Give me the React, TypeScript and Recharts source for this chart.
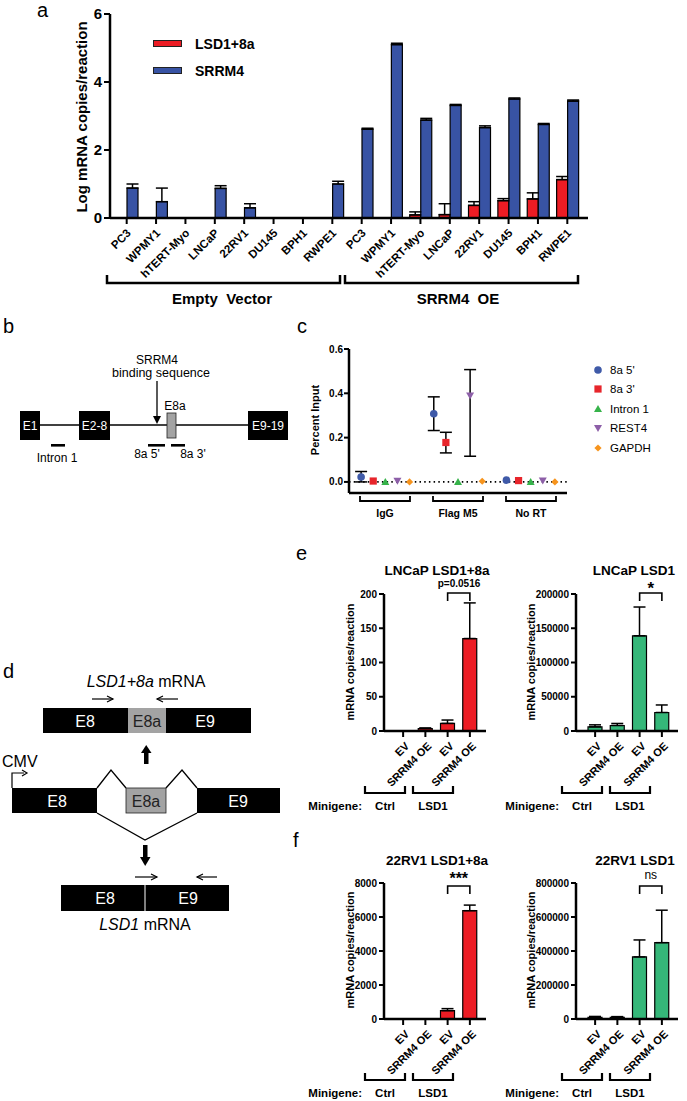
import React from "react";
import {
  BarChart, Bar, XAxis, YAxis, ErrorBar, Legend, ScatterChart, Scatter, ReferenceLine,
} from "recharts";

const FONT = "'Liberation Sans', Arial, Helvetica, sans-serif";

// ---- panel a: log copies per cell line ----
const cellLines = ["PC3", "WPMY1", "hTERT-Myo", "LNCaP", "22RV1", "DU145", "BPH1", "RWPE1"];
const evLsd = [0, 0, 0, 0, 0, 0, 0, 0];
const evSrrm4 = [0.88, 0.48, 0, 0.87, 0.3, 0, 0, 1.0];
const evSrrm4Err = [0.12, 0.4, 0, 0.08, 0.12, 0, 0, 0.08];
const oeLsd = [0, 0, 0.09, 0.1, 0.37, 0.51, 0.56, 1.13];
const oeLsdErr = [0, 0, 0.09, 0.32, 0.11, 0.06, 0.18, 0.09];
const oeSrrm4 = [2.61, 5.1, 2.88, 3.31, 2.66, 3.5, 2.75, 3.44];
const oeSrrm4Err = [0.03, 0.04, 0.05, 0.03, 0.05, 0.03, 0.03, 0.03];

// ---- panel c: ChIP percent input ----
const chipGroups = ["IgG", "Flag M5", "No RT"];
const chip8a5 = [0.022, 0.308, 0.008];
const chip8a5Err = [[0.022, 0.025], [0.076, 0.076], null];
const chip8a3 = [0.004, 0.178, 0.006];
const chip8a3Err = [null, [0.047, 0.046], null];
const chipIntron = [0, 0, 0];
const chipRest4 = [0.005, 0.39, 0.006];
const chipRest4Err = [null, [0.274, 0.117], null];
const chipGapdh = [0, 0.003, 0];

// ---- panels e, f: minigene qPCR ----
const minigeneLabels = ["EV", "SRRM4 OE", "EV", "SRRM4 OE"];
const lncapVariant = [0, 3.5, 11, 135];
const lncapVariantErr = [0, 1, 5, 52];
const lncapLsd1 = [6000, 8000, 139000, 27000];
const lncapLsd1Err = [3000, 3000, 42000, 11000];
const rv1Variant = [0, 0, 490, 6370];
const rv1VariantErr = [0, 0, 120, 330];
const rv1Lsd1 = [10000, 10000, 365000, 449000];
const rv1Lsd1Err = [5000, 4000, 100000, 191000];

const RED = "#ec1c24";
const BLUE = "#3853a4";
const GREEN = "#35b779";
const AX = { stroke: "#000", strokeWidth: 2.5 };
const TL = { stroke: "#000", strokeWidth: 2 };

const aData = [
  ...cellLines.map((c, i) => ({
    key: `ev-${c}`, name: c, lsd: evLsd[i], lsdErr: null,
    srrm: evSrrm4[i], srrmErr: evSrrm4Err[i] ? [0, evSrrm4Err[i]] : null,
  })),
  ...cellLines.map((c, i) => ({
    key: `oe-${c}`, name: c, lsd: oeLsd[i], lsdErr: oeLsdErr[i] ? [0, oeLsdErr[i]] : null,
    srrm: oeSrrm4[i], srrmErr: [0, oeSrrm4Err[i]],
  })),
];

const chipSeries = [
  { name: "8a 5'", kind: "circle", color: "#3f5aa8", vals: chip8a5, errs: chip8a5Err },
  { name: "8a 3'", kind: "square", color: "#e7252b", vals: chip8a3, errs: chip8a3Err },
  { name: "Intron 1", kind: "triangle", color: "#36b34a", vals: chipIntron, errs: [null, null, null] },
  { name: "REST4", kind: "down", color: "#8d5fa8", vals: chipRest4, errs: chipRest4Err },
  { name: "GAPDH", kind: "diamond", color: "#f7941d", vals: chipGapdh, errs: [null, null, null] },
];

function Marker({ kind, cx, cy, color }: any) {
  if (kind === "circle") return <circle cx={cx} cy={cy} r={3.8} fill={color} />;
  if (kind === "square") return <rect x={cx - 3.6} y={cy - 3.6} width={7.2} height={7.2} fill={color} />;
  if (kind === "triangle")
    return <path d={`M${cx} ${cy - 4} L${cx + 4} ${cy + 3} L${cx - 4} ${cy + 3}Z`} fill={color} />;
  if (kind === "down")
    return <path d={`M${cx - 4} ${cy - 3} L${cx + 4} ${cy - 3} L${cx} ${cy + 4}Z`} fill={color} />;
  return <path d={`M${cx} ${cy - 3.6} L${cx + 3.6} ${cy} L${cx} ${cy + 3.6} L${cx - 3.6} ${cy}Z`} fill={color} />;
}

function SlantTick({ x, y, label, size, dx = 3, dy = 4 }: any) {
  return (
    <text
      x={x + dx} y={y + dy} textAnchor="end" dy="0.35em"
      transform={`rotate(-45 ${x + dx} ${y + dy})`}
      style={{ fontFamily: FONT, fontSize: size, fontWeight: 700, fill: "#000" }}
    >
      {label}
    </text>
  );
}

function PanelA() {
  const legend = () => (
    <div style={{ fontFamily: FONT, fontWeight: 700, fontSize: 14 }}>
      {[{ n: "LSD1+8a", c: RED }, { n: "SRRM4", c: BLUE }].map((s) => (
        <div key={s.n} style={{ display: "flex", alignItems: "center", height: 27 }}>
          <span style={{ display: "inline-block", width: 29, height: 7, background: s.c, border: "1px solid #222", boxSizing: "border-box", marginRight: 13 }} />
          <span>{s.n}</span>
        </div>
      ))}
    </div>
  );
  return (
    <div style={{ position: "absolute", left: 0, top: 0 }}>
      <BarChart width={600} height={300} data={aData} margin={{ top: 14, right: 12, left: 70, bottom: 12 }} barGap={0} barSize={11}>
        <XAxis
          dataKey="key" interval={0} height={70} tickSize={6} axisLine={AX} tickLine={TL}
          padding={{ left: 2, right: 6 }}
          tick={(p: any) => <SlantTick x={p.x} y={p.y} label={aData[p.index]?.name} size={11.5} dx={2} dy={5} />}
        />
        <YAxis
          domain={[0, 6]} ticks={[0, 2, 4, 6]} interval={0} width={40} tickSize={6} axisLine={AX} tickLine={TL}
          tick={{ fontFamily: FONT, fontSize: 15, fontWeight: 700, fill: "#000" }}
        />
        <Legend content={legend} layout="vertical" align="center" verticalAlign="middle" wrapperStyle={{ left: 153, top: 30, width: 160 }} />
        <Bar dataKey="lsd" name="LSD1+8a" fill={RED} stroke="#000" strokeWidth={1.2} isAnimationActive={false}>
          <ErrorBar dataKey="lsdErr" width={6} stroke="#000" strokeWidth={1.5} />
        </Bar>
        <Bar dataKey="srrm" name="SRRM4" fill={BLUE} stroke="#000" strokeWidth={1.2} isAnimationActive={false}>
          <ErrorBar dataKey="srrmErr" width={6} stroke="#000" strokeWidth={1.5} />
        </Bar>
      </BarChart>
    </div>
  );
}

function PanelC() {
  const legend = () => (
    <div style={{ fontFamily: FONT, fontSize: 11.5 }}>
      {chipSeries.map((s) => (
        <div key={s.name} style={{ display: "flex", alignItems: "center", height: 19.5 }}>
          <svg width={12} height={12} style={{ marginRight: 6 }}>
            <Marker kind={s.kind} cx={6} cy={6} color={s.color} />
          </svg>
          <span>{s.name}</span>
        </div>
      ))}
    </div>
  );
  return (
    <div style={{ position: "absolute", left: 300, top: 330 }}>
      <ScatterChart width={387} height={200} margin={{ top: 19, right: 120, left: 19, bottom: 35 }}>
        <XAxis type="number" dataKey="x" domain={[-1, 17]} tick={false} tickLine={false} axisLine={AX} height={2} />
        <YAxis
          type="number" dataKey="y" domain={[-0.05, 0.6]} ticks={[0, 0.2, 0.4, 0.6]} interval={0} width={30}
          tickSize={5} tickMargin={1} axisLine={AX} tickLine={TL} tickFormatter={(v: number) => v.toFixed(1)}
          tick={{ fontFamily: FONT, fontSize: 10, fontWeight: 700, fill: "#000" }}
        />
        <ReferenceLine y={0} stroke="#000" strokeWidth={1.6} strokeDasharray="1.5 3.2" />
        <Legend content={legend} layout="vertical" align="center" verticalAlign="middle" wrapperStyle={{ left: 292, top: 30, width: 90 }} />
        {chipSeries.map((s, si) => (
          <Scatter
            key={s.name} name={s.name} fill={s.color} isAnimationActive={false}
            data={chipGroups.map((g, gi) => ({ x: gi * 6 + si, y: s.vals[gi], err: s.errs[gi] }))}
            shape={(p: any) => <Marker kind={s.kind} cx={p.cx} cy={p.cy} color={s.color} />}
          >
            <ErrorBar dataKey="err" direction="y" width={6} stroke="#000" strokeWidth={1.5} />
          </Scatter>
        ))}
      </ScatterChart>
    </div>
  );
}

const PAD_L = 8;
const PAD_R = 5;
function barCenter(left: number, right: number, i: number) {
  const band = (right - left - PAD_L - PAD_R) / 4;
  return left + PAD_L + band * (i + 0.5);
}

function MinigeneBars({ plotLeft, plotRight, plotTop, plotBottom, values, errors, ticks, fill }: any) {
  const yw = 46, xh = 70, pad = 10;
  const L = plotLeft - yw - pad;
  const T = plotTop - pad;
  const W = plotRight + pad - L;
  const H = plotBottom + xh + pad - T;
  const rows = minigeneLabels.map((label, i) => ({
    key: `m${i}`, label, v: values[i], e: errors[i] ? [0, errors[i]] : null,
  }));
  return (
    <div style={{ position: "absolute", left: L, top: T }}>
      <BarChart width={W} height={H} data={rows} margin={{ top: pad, right: pad, left: pad, bottom: pad }} barSize={14}>
        <XAxis
          dataKey="key" interval={0} height={xh} tickSize={6} axisLine={AX} tickLine={TL}
          padding={{ left: PAD_L, right: PAD_R }}
          tick={(p: any) => <SlantTick x={p.x} y={p.y} label={rows[p.index]?.label} size={11} dx={4} dy={5} />}
        />
        <YAxis
          domain={[0, ticks[ticks.length - 1]]} ticks={ticks} interval={0} width={yw} tickSize={5} tickMargin={2}
          axisLine={AX} tickLine={TL}
          tick={{ fontFamily: FONT, fontSize: 10, fontWeight: 700, fill: "#000" }}
        />
        <Bar dataKey="v" fill={fill} stroke="#000" strokeWidth={1.2} isAnimationActive={false}>
          <ErrorBar dataKey="e" width={6} stroke="#000" strokeWidth={1.5} />
        </Bar>
      </BarChart>
    </div>
  );
}

const E_TOP = 594, E_BOT = 731, F_TOP = 883, F_BOT = 1019;
const LX = [384, 486], RX = [576, 678];

function Arrow({ x1, x2, y }: any) {
  const dir = x2 > x1 ? 1 : -1;
  return (
    <g stroke="#000" strokeWidth={1.2} fill="none">
      <line x1={x1} y1={y} x2={x2} y2={y} />
      <path d={`M${x2 - dir * 6} ${y - 3} L${x2} ${y} L${x2 - dir * 6} ${y + 3}`} />
    </g>
  );
}

function GroupBracket({ x1, x2, y, h = 7, w = 2.2 }: any) {
  return <path d={`M${x1} ${y - h} V${y} H${x2} V${y - h}`} fill="none" stroke="#000" strokeWidth={w} />;
}
function SigBracket({ x1, x2, y, h = 8 }: any) {
  return <path d={`M${x1} ${y + h} V${y} H${x2} V${y + h}`} fill="none" stroke="#000" strokeWidth={1.6} />;
}

function Overlay() {
  const t = (extra: any = {}) => ({ fontFamily: FONT, fill: "#000", ...extra });
  const minigeneRow = (dx: number, base: number, brY: number) => (
    <g>
      <text x={362 + dx} y={base} textAnchor="end" style={t({ fontSize: 11.5, fontWeight: 700 })}>Minigene:</text>
      <GroupBracket x1={365 + dx} x2={405 + dx} y={brY} />
      <GroupBracket x1={413 + dx} x2={453 + dx} y={brY} />
      <text x={385 + dx} y={base} textAnchor="middle" style={t({ fontSize: 11.5, fontWeight: 700 })}>Ctrl</text>
      <text x={433 + dx} y={base} textAnchor="middle" style={t({ fontSize: 11.5, fontWeight: 700 })}>LSD1</text>
    </g>
  );
  const yTitle = (x: number, y: number, s: string, size: number) => (
    <text x={x} y={y} textAnchor="middle" dy="0.35em" transform={`rotate(-90 ${x} ${y})`} style={t({ fontSize: size, fontWeight: 700 })}>{s}</text>
  );
  return (
    <svg width={687} height={1101} style={{ position: "absolute", left: 0, top: 0, pointerEvents: "none" }}>
      {/* panel letters */}
      <text x={37} y={17} style={t({ fontSize: 20 })}>a</text>
      <text x={3} y={333} style={t({ fontSize: 20 })}>b</text>
      <text x={297} y={333} style={t({ fontSize: 20 })}>c</text>
      <text x={3} y={678} style={t({ fontSize: 20 })}>d</text>
      <text x={296} y={560} style={t({ fontSize: 20 })}>e</text>
      <text x={293} y={847} style={t({ fontSize: 20 })}>f</text>

      {/* panel a annotations */}
      {yTitle(82, 117, "Log mRNA copies/reaction", 15)}
      <GroupBracket x1={107} x2={340} y={283} h={8} w={2.5} />
      <GroupBracket x1={345} x2={578} y={283} h={8} w={2.5} />
      <text x={222} y={304} textAnchor="middle" style={t({ fontSize: 15, fontWeight: 700, whiteSpace: "pre" })}>{"Empty  Vector"}</text>
      <text x={458} y={304} textAnchor="middle" style={t({ fontSize: 15, fontWeight: 700, whiteSpace: "pre" })}>{"SRRM4  OE"}</text>

      {/* panel b diagram */}
      <line x1={40} y1={425} x2={248} y2={425} stroke="#000" strokeWidth={1.6} />
      <rect x={20} y={411} width={20} height={29} fill="#000" />
      <rect x={79} y={411} width={31} height={29} fill="#000" />
      <rect x={248} y={411} width={40} height={29} fill="#000" />
      <rect x={167} y={413} width={9} height={25} fill="#a3a3a3" stroke="#222" strokeWidth={0.8} />
      <text x={30} y={430} textAnchor="middle" style={t({ fontSize: 12, fill: "#fff" })}>E1</text>
      <text x={94.5} y={430} textAnchor="middle" style={t({ fontSize: 12, fill: "#fff" })}>E2-8</text>
      <text x={268} y={430} textAnchor="middle" style={t({ fontSize: 12, fill: "#fff" })}>E9-19</text>
      <text x={175} y={410} textAnchor="middle" style={t({ fontSize: 12 })}>E8a</text>
      <text x={157} y={364} textAnchor="middle" style={t({ fontSize: 12 })}>SRRM4</text>
      <text x={161} y={377} textAnchor="middle" style={t({ fontSize: 12.5 })}>binding sequence</text>
      <line x1={157} y1={381} x2={157} y2={417} stroke="#000" strokeWidth={1.3} />
      <path d="M153 416 L161 416 L157 424Z" fill="#000" />
      <rect x={51} y={444} width={14} height={2.6} fill="#000" />
      <rect x={148} y={444} width={17} height={2.6} fill="#000" />
      <rect x={171} y={444} width={14} height={2.6} fill="#000" />
      <text x={57} y={462} textAnchor="middle" style={t({ fontSize: 12 })}>Intron 1</text>
      <text x={147} y={458} textAnchor="middle" style={t({ fontSize: 12 })}>8a 5'</text>
      <text x={193} y={458} textAnchor="middle" style={t({ fontSize: 12 })}>8a 3'</text>

      {/* panel c annotations */}
      {yTitle(315, 420, "Percent Input", 11)}
      {chipGroups.map((g, i) => (
        <g key={g}>
          <GroupBracket x1={360 + i * 73} x2={410 + i * 73} y={501} h={5} w={1.8} />
          <text x={385 + i * 73} y={517} textAnchor="middle" style={t({ fontSize: 10.5, fontWeight: 700 })}>{g}</text>
        </g>
      ))}

      {/* panel d diagram */}
      <text x={146} y={687} textAnchor="middle" style={t({ fontSize: 16 })}>
        <tspan fontStyle="italic">LSD1+8a</tspan> mRNA
      </text>
      <Arrow x1={92} x2={113} y={699} />
      <Arrow x1={178} x2={157} y={699} />
      <rect x={43} y={708} width={208} height={25} fill="#000" />
      <rect x={128} y={708} width={38} height={25} fill="#a3a3a3" />
      <text x={85} y={727} textAnchor="middle" style={t({ fontSize: 16, fill: "#fff" })}>E8</text>
      <text x={147} y={727} textAnchor="middle" style={t({ fontSize: 16, fill: "#222" })}>E8a</text>
      <text x={205} y={727} textAnchor="middle" style={t({ fontSize: 16, fill: "#fff" })}>E9</text>
      <rect x={144} y={752} width={4.5} height={12} fill="#000" />
      <path d="M141 753 L151.5 753 L146.2 745Z" fill="#000" />
      <text x={2} y={767} style={t({ fontSize: 16 })}>CMV</text>
      <path d="M12 788 V773 H24" fill="none" stroke="#000" strokeWidth={1.2} />
      <path d="M22 770 L27 773 L22 776" fill="none" stroke="#000" strokeWidth={1.2} />
      <rect x={12} y={788} width={85} height={25} fill="#000" />
      <rect x={197} y={788} width={83} height={25} fill="#000" />
      <rect x={126} y={788} width={40} height={25} fill="#a3a3a3" stroke="#222" strokeWidth={0.8} />
      <text x={57} y={807} textAnchor="middle" style={t({ fontSize: 16, fill: "#fff" })}>E8</text>
      <text x={146} y={807} textAnchor="middle" style={t({ fontSize: 16, fill: "#222" })}>E8a</text>
      <text x={238} y={807} textAnchor="middle" style={t({ fontSize: 16, fill: "#fff" })}>E9</text>
      <path d="M97 788 L111 770 L126 788 M166 788 L182 770 L197 788 M97 813 L145 840 L197 813" fill="none" stroke="#000" strokeWidth={1.3} />
      <rect x={143} y={845} width={4.5} height={13} fill="#000" />
      <path d="M140 857 L150.5 857 L145.2 866Z" fill="#000" />
      <Arrow x1={135} x2={157} y={877} />
      <Arrow x1={217} x2={197} y={877} />
      <rect x={61} y={885} width={168} height={26} fill="#000" />
      <line x1={145} y1={885} x2={145} y2={911} stroke="#fff" strokeWidth={1} />
      <text x={105} y={904} textAnchor="middle" style={t({ fontSize: 16, fill: "#fff" })}>E8</text>
      <text x={188} y={904} textAnchor="middle" style={t({ fontSize: 16, fill: "#fff" })}>E9</text>
      <text x={145} y={930} textAnchor="middle" style={t({ fontSize: 16 })}>
        <tspan fontStyle="italic">LSD1</tspan> mRNA
      </text>

      {/* panel e annotations */}
      <text x={437} y={575} textAnchor="middle" style={t({ fontSize: 13.5, fontWeight: 700 })}>LNCaP LSD1+8a</text>
      <text x={634} y={575} textAnchor="middle" style={t({ fontSize: 13.5, fontWeight: 700 })}>LNCaP LSD1</text>
      <text x={459} y={587} textAnchor="middle" style={t({ fontSize: 10, fontWeight: 700 })}>p=0.0516</text>
      <SigBracket x1={barCenter(LX[0], LX[1], 2)} x2={barCenter(LX[0], LX[1], 3)} y={593} />
      <text x={(barCenter(RX[0], RX[1], 2) + barCenter(RX[0], RX[1], 3)) / 2} y={594} textAnchor="middle" style={t({ fontSize: 17, fontWeight: 700 })}>*</text>
      <SigBracket x1={barCenter(RX[0], RX[1], 2)} x2={barCenter(RX[0], RX[1], 3)} y={593} />
      {yTitle(350, 662, "mRNA copies/reaction", 11)}
      {yTitle(531, 662, "mRNA copies/reaction", 11)}
      {minigeneRow(0, 810, 793)}
      {minigeneRow(197, 810, 793)}

      {/* panel f annotations */}
      <text x={437} y={865} textAnchor="middle" style={t({ fontSize: 13.5, fontWeight: 700 })}>22RV1 LSD1+8a</text>
      <text x={635} y={865} textAnchor="middle" style={t({ fontSize: 13.5, fontWeight: 700 })}>22RV1 LSD1</text>
      <text x={(barCenter(LX[0], LX[1], 2) + barCenter(LX[0], LX[1], 3)) / 2} y={884} textAnchor="middle" style={t({ fontSize: 16, fontWeight: 700 })}>***</text>
      <SigBracket x1={barCenter(LX[0], LX[1], 2)} x2={barCenter(LX[0], LX[1], 3)} y={886} />
      <text x={(barCenter(RX[0], RX[1], 2) + barCenter(RX[0], RX[1], 3)) / 2} y={879} textAnchor="middle" style={t({ fontSize: 12 })}>ns</text>
      <SigBracket x1={barCenter(RX[0], RX[1], 2)} x2={barCenter(RX[0], RX[1], 3)} y={886} />
      {yTitle(350, 950, "mRNA copies/reaction", 11)}
      {yTitle(531, 950, "mRNA copies/reaction", 11)}
      {minigeneRow(0, 1097, 1080)}
      {minigeneRow(197, 1097, 1080)}
    </svg>
  );
}

export default function App() {
  return (
    <div style={{ position: "absolute", left: 0, top: 0, width: 687, height: 1101, background: "#fff", overflow: "hidden", fontFamily: FONT }}>
      <PanelA />
      <PanelC />
      <MinigeneBars plotLeft={LX[0]} plotRight={LX[1]} plotTop={E_TOP} plotBottom={E_BOT} values={lncapVariant} errors={lncapVariantErr} ticks={[0, 50, 100, 150, 200]} fill={RED} />
      <MinigeneBars plotLeft={RX[0]} plotRight={RX[1]} plotTop={E_TOP} plotBottom={E_BOT} values={lncapLsd1} errors={lncapLsd1Err} ticks={[0, 50000, 100000, 150000, 200000]} fill={GREEN} />
      <MinigeneBars plotLeft={LX[0]} plotRight={LX[1]} plotTop={F_TOP} plotBottom={F_BOT} values={rv1Variant} errors={rv1VariantErr} ticks={[0, 2000, 4000, 6000, 8000]} fill={RED} />
      <MinigeneBars plotLeft={RX[0]} plotRight={RX[1]} plotTop={F_TOP} plotBottom={F_BOT} values={rv1Lsd1} errors={rv1Lsd1Err} ticks={[0, 200000, 400000, 600000, 800000]} fill={GREEN} />
      <Overlay />
    </div>
  );
}
